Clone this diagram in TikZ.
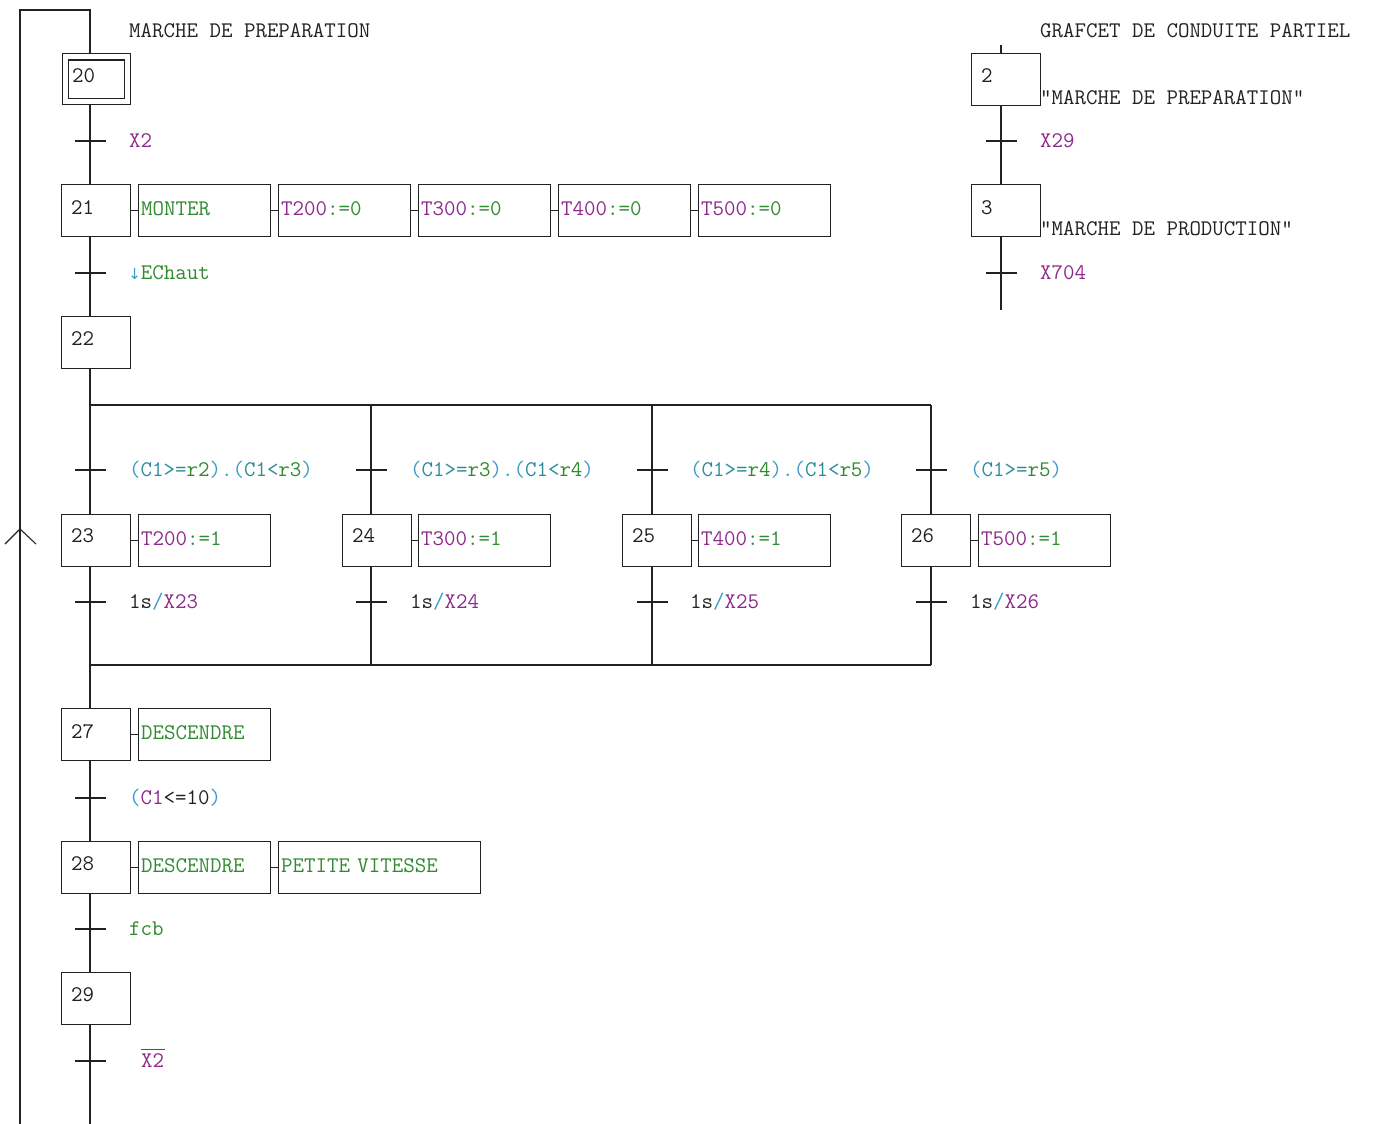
\documentclass[tikz,border=0pt]{standalone}
\usepackage{fontspec}
\newfontfamily\arrowfont{DejaVu Sans}
\usetikzlibrary{calc}
\definecolor{ln}{HTML}{222222}
\definecolor{pur}{HTML}{8E2A8C}
\definecolor{grn}{HTML}{2E8B2E}
\definecolor{cyn}{HTML}{3A9CC8}
\definecolor{tea}{HTML}{2C8C96}
\newcommand\mypur[1]{\textcolor{pur}{#1}}
\newcommand\mygrn[1]{\textcolor{grn}{#1}}
\newcommand\mycyn[1]{\textcolor{cyn}{#1}}
\newcommand\mytea[1]{\textcolor{tea}{#1}}
\newcommand\mycond[2]{\mycyn{(}\mytea{C1>=}\mygrn{#1}\mycyn{).(}\mytea{C1<}\mygrn{#2}\mycyn{)}}
\newcommand\mytim[1]{\textcolor{ln}{1s}\mycyn{/}\mypur{X#1}}
\newcommand\myset[2]{\mypur{#1}\mygrn{:=#2}}
\tikzset{
  every node/.style={font=\ttfamily\fontsize{22.3}{24}\selectfont, inner sep=0pt, text=ln},
  stepbox/.style={draw=ln, line width=1.3pt, minimum width=69pt, minimum height=52pt, anchor=north west},
  actbox/.style={draw=ln, line width=1.3pt, minimum width=132pt, minimum height=52pt, anchor=north west,
                 text width=127pt, inner xsep=2.5pt, align=left, text height=13.6pt, text depth=4pt},
  lbl/.style={anchor=base west},
  link/.style={draw=ln, line width=1.3pt},
  tickmark/.style={draw=ln, line width=1.3pt},
}
\begin{document}
\begin{tikzpicture}[x=1pt,y=-1pt]
\useasboundingbox (0,0) rectangle (1374,1124);
\fill[white] (0,0) rectangle (1374,1124);

% columns
\coordinate (L) at (90,0);
\coordinate (B2) at (371,0);
\coordinate (B3) at (652,0);
\coordinate (B4) at (931,0);
\coordinate (R) at (1001,0);

% titles
\node[lbl] (title1) at (129,38) {MARCHE DE PREPARATION};
\node[lbl] (title2) at (1040,38) {GRAFCET DE CONDUITE PARTIEL};

% ---------- main grafcet ----------
% step 20 (initial)
\node[stepbox, minimum width=68pt, minimum height=51pt] (s20) at (62,53) {};
\node[draw=ln, line width=1.3pt, minimum width=56pt, minimum height=38pt] (s20i) at (s20.center) {};
\node[lbl] (n20) at (72,82.5) {20};

% step 21 + actions
\node[stepbox] (s21) at (61,184) {};
\node[lbl] (n21) at (71,214.5) {21};
\node[actbox] (a21a) at (138,184) {\mygrn{MONTER}};
\node[actbox] (a21b) at (278,184) {\myset{T200}{0}};
\node[actbox] (a21c) at (418,184) {\myset{T300}{0}};
\node[actbox] (a21d) at (558,184) {\myset{T400}{0}};
\node[actbox] (a21e) at (698,184) {\myset{T500}{0}};
\draw[link] (s21.east) -- (a21a.west);
\draw[link] (a21a.east) -- (a21b.west);
\draw[link] (a21b.east) -- (a21c.west);
\draw[link] (a21c.east) -- (a21d.west);
\draw[link] (a21d.east) -- (a21e.west);

% step 22
\node[stepbox] (s22) at (61,316) {};
\node[lbl] (n22) at (71,345.5) {22};

% steps 23-26
\node[stepbox] (s23) at (61,514) {};
\node[lbl] (n23) at (71,542.5) {23};
\node[actbox] (a23) at (138,514) {\myset{T200}{1}};
\node[stepbox] (s24) at (342,514) {};
\node[lbl] (n24) at (352,542.5) {24};
\node[actbox] (a24) at (418,514) {\myset{T300}{1}};
\node[stepbox] (s25) at (622,514) {};
\node[lbl] (n25) at (632,542.5) {25};
\node[actbox] (a25) at (698,514) {\myset{T400}{1}};
\node[stepbox] (s26) at (901,514) {};
\node[lbl] (n26) at (911,542.5) {26};
\node[actbox] (a26) at (978,514) {\myset{T500}{1}};
\draw[link] (s23.east) -- (a23.west);
\draw[link] (s24.east) -- (a24.west);
\draw[link] (s25.east) -- (a25.west);
\draw[link] (s26.east) -- (a26.west);

% step 27
\node[stepbox] (s27) at (61,708) {};
\node[lbl] (n27) at (71,738.5) {27};
\node[actbox] (a27) at (138,708) {\mygrn{DESCENDRE}};
\draw[link] (s27.east) -- (a27.west);

% step 28
\node[stepbox] (s28) at (61,841) {};
\node[lbl] (n28) at (71,870.5) {28};
\node[actbox] (a28a) at (138,841) {\mygrn{DESCENDRE}};
\node[actbox, minimum width=202pt, text width=197pt] (a28b) at (278,841) {\mygrn{PETITE VITESSE}};
\draw[link] (s28.east) -- (a28a.west);
\draw[link] (a28a.east) -- (a28b.west);

% step 29
\node[stepbox] (s29) at (61,972) {};
\node[lbl] (n29) at (71,1001.5) {29};

% transitions (main column)
\coordinate (t20) at (90,141);
\coordinate (t21) at (90,273);
\coordinate (t27) at (90,798);
\coordinate (t28) at (90,929);
\coordinate (t29) at (90,1061);
\coordinate (t22a) at (90,470);
\coordinate (t22b) at (371,470);
\coordinate (t22c) at (652,470);
\coordinate (t22d) at (931,470);
\coordinate (t23) at (90,602);
\coordinate (t24) at (371,602);
\coordinate (t25) at (652,602);
\coordinate (t26) at (931,602);
\foreach \t in {t20,t21,t27,t28,t29,t22a,t22b,t22c,t22d,t23,t24,t25,t26}
  \draw[tickmark] ($(\t)+(-15,0)$) -- ($(\t)+(16,0)$);

% divergence / convergence
\coordinate (div1) at (90,405);
\coordinate (div4) at (931,405);
\coordinate (con1) at (90,665);
\coordinate (con4) at (931,665);

% links
\coordinate (retTop) at (20,10);
\coordinate (retBot) at (20,1124);
\coordinate (mainTop) at (90,10);
\coordinate (mainBot) at (90,1124);
\coordinate (retArrow) at (20,529);
\draw[link] (retBot) -- (retTop) -- (mainTop) -- (s20.north -| L);
\draw[link] (s20.south -| L) -- (s21.north -| L);
\draw[link] (s21.south -| L) -- (s22.north -| L);
\draw[link] (s22.south -| L) -- (div1);
\draw[link] (div1) -- (div4);
\draw[link] (div1) -- (s23.north -| L);
\draw[link] (div1 -| B2) -- (s24.north -| B2);
\draw[link] (div1 -| B3) -- (s25.north -| B3);
\draw[link] (div4) -- (s26.north -| B4);
\draw[link] (s23.south -| L) -- (con1);
\draw[link] (s24.south -| B2) -- (con1 -| B2);
\draw[link] (s25.south -| B3) -- (con1 -| B3);
\draw[link] (s26.south -| B4) -- (con4);
\draw[link] (con1) -- (con4);
\draw[link] (con1) -- (s27.north -| L);
\draw[link] (s27.south -| L) -- (s28.north -| L);
\draw[link] (s28.south -| L) -- (s29.north -| L);
\draw[link] (s29.south -| L) -- (mainBot);
\draw[draw=ln, line width=1.1pt] ($(retArrow)+(-15,15)$) -- (retArrow) -- ($(retArrow)+(16,15)$);

% transition labels
\node[lbl] (c20) at (129,147.5) {\mypur{X2}};
\node[lbl] (c21) at (129,279.5) {\makebox[11.7pt][r]{\arrowfont\fontsize{15}{15}\selectfont\mycyn{↓}}\mygrn{EChaut}};
\node[lbl] (c22a) at (129,476.5) {\mycond{r2}{r3}};
\node[lbl] (c22b) at (410,476.5) {\mycond{r3}{r4}};
\node[lbl] (c22c) at (690,476.5) {\mycond{r4}{r5}};
\node[lbl] (c22d) at (970,476.5) {\mycyn{(}\mytea{C1>=}\mygrn{r5}\mycyn{)}};
\node[lbl] (c23) at (129,608.5) {\mytim{23}};
\node[lbl] (c24) at (410,608.5) {\mytim{24}};
\node[lbl] (c25) at (690,608.5) {\mytim{25}};
\node[lbl] (c26) at (970,608.5) {\mytim{26}};
\node[lbl] (c27) at (129,804.5) {\mycyn{(}\mypur{C1}<=10\mycyn{)}};
\node[lbl] (c28) at (129,935.5) {\mygrn{fcb}};
\node[lbl] (c29) at (141,1067.5) {\mypur{X2}};
\draw[pur, line width=1pt] ($(c29.north west)+(0,-4)$) -- ($(c29.north east)+(1,-4)$);

% ---------- right grafcet ----------
\node[stepbox] (s2) at (971,53) {};
\node[lbl] (n2) at (981,82.5) {2};
\node[lbl] (q2) at (1040,104) {"MARCHE DE PREPARATION"};
\node[stepbox] (s3) at (971,184) {};
\node[lbl] (n3) at (981,214.5) {3};
\node[lbl] (q3) at (1040,235.5) {"MARCHE DE PRODUCTION"};
\coordinate (rTop) at (1001,45);
\coordinate (rBot) at (1001,310);
\coordinate (tr2) at (1001,141);
\coordinate (tr3) at (1001,273);
\draw[link] (rTop) -- (s2.north -| R);
\draw[link] (s2.south -| R) -- (s3.north -| R);
\draw[link] (s3.south -| R) -- (rBot);
\foreach \t in {tr2,tr3}
  \draw[tickmark] ($(\t)+(-15,0)$) -- ($(\t)+(16,0)$);
\node[lbl] (cr2) at (1040,147.5) {\mypur{X29}};
\node[lbl] (cr3) at (1040,279.5) {\mypur{X704}};
\end{tikzpicture}
\end{document}
